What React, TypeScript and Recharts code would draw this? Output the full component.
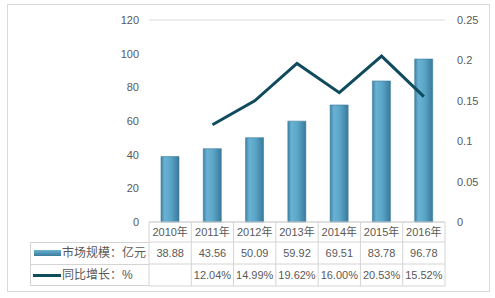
import { ComposedChart, Bar, Line, XAxis, YAxis, CartesianGrid } from "recharts";

// ---------------------------------------------------------------------------
// Data
// ---------------------------------------------------------------------------

const years = ["2010年", "2011年", "2012年", "2013年", "2014年", "2015年", "2016年"];
const marketSize = [38.88, 43.56, 50.09, 59.92, 69.51, 83.78, 96.78];
const growth: (number | null)[] = [null, 0.1204, 0.1499, 0.1962, 0.16, 0.2053, 0.1552];
const growthLabels = ["", "12.04%", "14.99%", "19.62%", "16.00%", "20.53%", "15.52%"];
const leftTicks = [0, 20, 40, 60, 80, 100, 120];
const rightTicks = [0, 0.05, 0.1, 0.15, 0.2, 0.25];

const seriesName1 = "市场规模：亿元";
const seriesName2 = "同比增长：%";

// ---------------------------------------------------------------------------
// Layout
// ---------------------------------------------------------------------------

const W = 483;
const H = 288;
const PLOT_LEFT = 141;
const PLOT_RIGHT = 437;
const PLOT_TOP = 15;
const PLOT_BOTTOM = 217;
const BAND = (PLOT_RIGHT - PLOT_LEFT) / years.length;
const ROW1 = 20;
const ROW2 = 42;
const ROW3 = 64;

const TEXT = "#595959";
const RULE = "#d4d4d4";
const LINE_COLOR = "#104b5d";
const FONT = '"Liberation Sans", "Noto Sans CJK SC", sans-serif';

const data = years.map((year, i) => ({
  year,
  size: marketSize[i],
  growth: growth[i],
}));

// ---------------------------------------------------------------------------
// Table tick: header + value rows under each category
// ---------------------------------------------------------------------------

function TableTick(props: any) {
  const { x, y, payload } = props;
  const i = years.indexOf(payload.value);
  const l = x - BAND / 2;
  const r = x + BAND / 2;
  return (
    <g>
      {[0, ROW1, ROW2, ROW3].map((dy) => (
        <line key={dy} x1={l} x2={r} y1={y + dy} y2={y + dy} stroke={RULE} />
      ))}
      {i === 0 && <line x1={l} x2={l} y1={y} y2={y + ROW3} stroke={RULE} />}
      <line x1={r} x2={r} y1={y} y2={y + ROW3} stroke={RULE} />
      <text x={x} y={y + ROW1 / 2} textAnchor="middle" dominantBaseline="central" fill={TEXT} fontSize={11}>
        {payload.value}
      </text>
      <text x={x} y={y + (ROW1 + ROW2) / 2} textAnchor="middle" dominantBaseline="central" fill={TEXT} fontSize={11}>
        {marketSize[i].toFixed(2)}
      </text>
      <text x={x} y={y + (ROW2 + ROW3) / 2} textAnchor="middle" dominantBaseline="central" fill={TEXT} fontSize={11}>
        {growthLabels[i]}
      </text>
    </g>
  );
}

// ---------------------------------------------------------------------------
// Component
// ---------------------------------------------------------------------------

export default function App() {
  const legendLeft = 22;
  const rowTop = PLOT_BOTTOM + ROW1;
  return (
    <div
      style={{
        position: "absolute",
        left: 7,
        top: 4,
        width: W,
        height: H,
        border: "1px solid #d9d9d9",
        background: "#fff",
        fontFamily: FONT,
        boxSizing: "border-box",
      }}
    >
      <ComposedChart
        width={W - 2}
        height={H - 2}
        data={data}
        margin={{ top: PLOT_TOP, right: 0, left: 0, bottom: H - 2 - PLOT_BOTTOM - 64 }}
        style={{ fontFamily: FONT }}
      >
        <defs>
          <linearGradient id="barFill" x1="0" y1="0" x2="1" y2="0">
            <stop offset="0%" stopColor="#3d83a6" />
            <stop offset="20%" stopColor="#6ab2d3" />
            <stop offset="55%" stopColor="#5aa5c7" />
            <stop offset="100%" stopColor="#3a7a9b" />
          </linearGradient>
        </defs>
        <CartesianGrid horizontal vertical={false} stroke="#d9d9d9" />
        <XAxis
          dataKey="year"
          xAxisId="x"
          height={64}
          axisLine={false}
          tickLine={false}
          tickSize={0}
          tickMargin={0}
          interval={0}
          tick={<TableTick />}
        />
        <YAxis
          yAxisId="left"
          width={PLOT_LEFT}
          domain={[0, 120]}
          ticks={leftTicks}
          axisLine={false}
          tickLine={false}
          tickSize={0}
          tickMargin={10}
          tick={{ fill: TEXT, fontSize: 11 }}
        />
        <YAxis
          yAxisId="right"
          orientation="right"
          width={W - 2 - PLOT_RIGHT}
          domain={[0, 0.25]}
          ticks={rightTicks}
          axisLine={false}
          tickLine={false}
          tickSize={0}
          tickMargin={12}
          tick={{ fill: TEXT, fontSize: 11 }}
        />
        <Bar
          dataKey="size"
          name={seriesName1}
          xAxisId="x"
          yAxisId="left"
          barSize={18}
          fill="url(#barFill)"
          stroke="#3a7a9b"
          strokeWidth={0.6}
          isAnimationActive={false}
        />
        <Line
          dataKey="growth"
          name={seriesName2}
          xAxisId="x"
          yAxisId="right"
          stroke={LINE_COLOR}
          strokeWidth={3}
          dot={false}
          activeDot={false}
          isAnimationActive={false}
        />
      </ComposedChart>

      {/* legend column of the data table */}
      <div style={{ position: "absolute", left: legendLeft, top: rowTop, width: PLOT_LEFT - legendLeft, height: ROW3 - ROW1, borderTop: `1px solid ${RULE}`, borderLeft: `1px solid ${RULE}`, borderBottom: `1px solid ${RULE}`, boxSizing: "border-box" }} />
      <div style={{ position: "absolute", left: legendLeft, top: PLOT_BOTTOM + ROW2, width: PLOT_LEFT - legendLeft, height: 1, background: RULE }} />
      <div style={{ position: "absolute", left: legendLeft + 4, top: rowTop + 8, width: 27, height: 6, background: "linear-gradient(to bottom, #6ab2d3, #3a7a9b)" }} />
      <div style={{ position: "absolute", left: legendLeft + 32, top: rowTop, height: ROW2 - ROW1, lineHeight: `${ROW2 - ROW1}px`, fontSize: 12, color: TEXT, whiteSpace: "nowrap" }}>
        {seriesName1}
      </div>
      <div style={{ position: "absolute", left: legendLeft + 3, top: PLOT_BOTTOM + ROW2 + 10, width: 28, height: 3, background: LINE_COLOR }} />
      <div style={{ position: "absolute", left: legendLeft + 32, top: PLOT_BOTTOM + ROW2, height: ROW3 - ROW2, lineHeight: `${ROW3 - ROW2}px`, fontSize: 12, color: TEXT, whiteSpace: "nowrap" }}>
        {seriesName2}
      </div>
    </div>
  );
}
